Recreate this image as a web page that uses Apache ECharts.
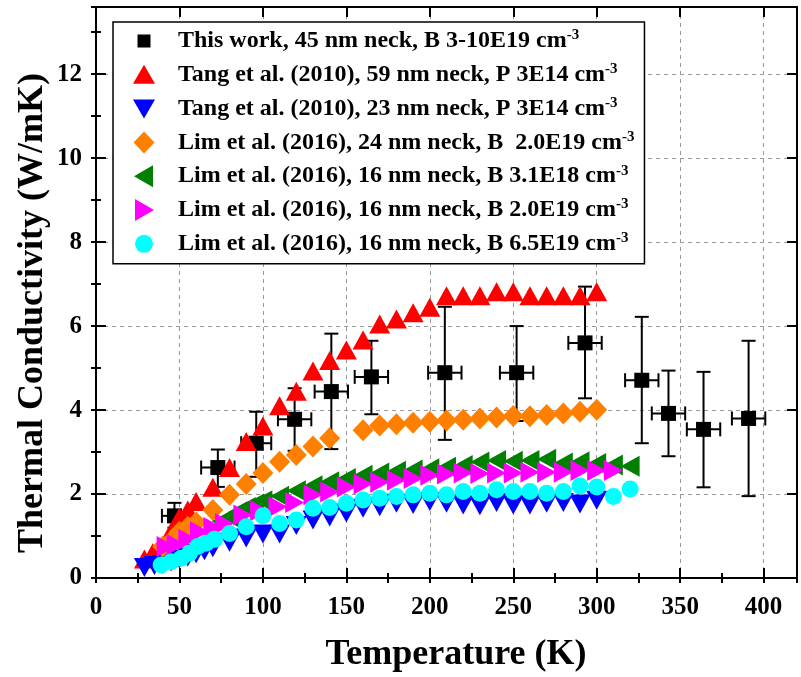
<!DOCTYPE html>
<html><head><meta charset="utf-8">
<script src="https://cdn.jsdelivr.net/npm/echarts@6/dist/echarts.min.js"></script>
<style>html,body{margin:0;padding:0;background:#fff}#c{width:801px;height:677px}</style>
</head><body><div id="c"></div>
<script>
// ---------- data ----------
const xTickLabels = ['0','50','100','150','200','250','300','350','400'];
const yTickLabels = ['0','2','4','6','8','10','12'];
const seriesNames = [
  'This work, 45 nm neck, B 3-10E19 cm',
  'Tang et al. (2010), 59 nm neck, P 3E14 cm',
  'Tang et al. (2010), 23 nm neck, P 3E14 cm',
  'Lim et al. (2016), 24 nm neck, B  2.0E19 cm',
  'Lim et al. (2016), 16 nm neck, B 3.1E18 cm',
  'Lim et al. (2016), 16 nm neck, B 2.0E19 cm',
  'Lim et al. (2016), 16 nm neck, B 6.5E19 cm'
];
const unitSup = '-3';

const thisT    = [47, 73, 96, 119, 141, 165, 209, 252, 293, 327, 343, 364, 391];
const thisK    = [1.48, 2.63, 3.21, 3.78, 4.44, 4.79, 4.89, 4.89, 5.60, 4.71, 3.92, 3.54, 3.80];
const thisKLo  = [1.20, 2.17, 2.41, 3.03, 3.07, 3.90, 3.29, 3.74, 4.28, 3.21, 2.90, 2.16, 1.95];
const thisKHi  = [1.79, 3.06, 3.96, 4.52, 5.82, 5.65, 6.46, 6.00, 6.94, 6.22, 4.94, 4.91, 5.65];
const thisTErr = [7.5, 10, 9, 10, 10, 10, 10, 10, 10, 10, 10, 10, 10];

const tang59T = [29, 34, 39, 45, 50, 55, 60, 70, 80, 90, 100, 110, 120, 130, 140, 150, 160, 170, 180, 190, 200, 210, 220, 230, 240, 250, 260, 270, 280, 290, 300];
const tang59K = [0.45, 0.60, 0.72, 1.10, 1.45, 1.62, 1.82, 2.16, 2.63, 3.25, 3.62, 4.10, 4.45, 4.93, 5.18, 5.43, 5.67, 6.05, 6.17, 6.32, 6.45, 6.72, 6.72, 6.72, 6.82, 6.82, 6.72, 6.72, 6.72, 6.72, 6.82];

const tang23T = [29, 35, 40, 45, 50, 55, 60, 65, 70, 80, 90, 100, 110, 120, 130, 140, 150, 160, 170, 180, 190, 200, 210, 220, 230, 240, 250, 260, 270, 280, 290, 300];
const tang23K = [0.25, 0.30, 0.32, 0.38, 0.45, 0.50, 0.58, 0.65, 0.72, 0.85, 0.95, 1.05, 1.05, 1.25, 1.38, 1.45, 1.55, 1.66, 1.70, 1.78, 1.75, 1.82, 1.78, 1.74, 1.72, 1.80, 1.74, 1.74, 1.78, 1.80, 1.76, 1.85];

const lim24T = [40, 45, 50, 55, 60, 70, 80, 90, 100, 110, 120, 130, 140, 160, 170, 180, 190, 200, 210, 220, 230, 240, 250, 260, 270, 280, 290, 300];
const lim24K = [0.75, 0.88, 1.10, 1.22, 1.32, 1.62, 1.98, 2.24, 2.50, 2.77, 2.93, 3.13, 3.33, 3.52, 3.63, 3.66, 3.70, 3.72, 3.75, 3.77, 3.80, 3.82, 3.86, 3.85, 3.88, 3.92, 3.96, 4.01];

const lim16aT = [75, 80, 85, 90, 95, 100, 110, 120, 130, 140, 150, 160, 170, 180, 190, 200, 210, 220, 230, 240, 250, 260, 270, 280, 290, 300, 310, 320];
const lim16aK = [1.35, 1.45, 1.58, 1.68, 1.76, 1.84, 1.95, 2.08, 2.20, 2.29, 2.37, 2.45, 2.50, 2.54, 2.57, 2.60, 2.64, 2.68, 2.76, 2.80, 2.78, 2.80, 2.83, 2.74, 2.77, 2.73, 2.69, 2.66];

const lim16bT = [42, 48, 55, 62, 70, 77, 88, 98, 109, 119, 130, 140, 150, 160, 170, 180, 190, 200, 210, 220, 230, 240, 250, 260, 270, 280, 290, 300, 310];
const lim16bK = [0.75, 0.80, 0.92, 1.10, 1.20, 1.30, 1.50, 1.60, 1.70, 1.80, 1.98, 2.05, 2.17, 2.24, 2.28, 2.33, 2.37, 2.45, 2.48, 2.50, 2.49, 2.50, 2.50, 2.52, 2.52, 2.52, 2.56, 2.56, 2.56];

const lim16cT = [39, 45, 51, 56, 61, 66, 71, 80, 90, 100, 110, 120, 130, 140, 150, 160, 170, 180, 190, 200, 210, 220, 230, 240, 250, 260, 270, 280, 290, 300, 310, 320];
const lim16cK = [0.31, 0.39, 0.47, 0.59, 0.75, 0.83, 0.92, 1.06, 1.22, 1.48, 1.30, 1.38, 1.66, 1.68, 1.78, 1.86, 1.90, 1.94, 1.98, 2.02, 1.98, 2.06, 2.02, 2.10, 2.06, 2.06, 2.02, 2.06, 2.19, 2.17, 1.94, 2.12];

// ---------- chart ----------
const FONT = "'Times New Roman', 'Liberation Serif', serif";
const chart = echarts.init(document.getElementById('c'), null, {renderer: 'canvas'});
const zip = (a, b) => a.map((v, i) => [v, b[i]]);
const X_MAX = 420, Y_MAX = 13.6;

const gridRect = {left: 96, right: 4, top: 7, bottom: 99};
const lblX = v => { const i = xTickLabels.indexOf(String(v)); return i >= 0 ? xTickLabels[i] : ''; };
const lblY = v => { const i = yTickLabels.indexOf(String(v)); return i >= 0 ? yTickLabels[i] : ''; };

function mainX(pos, showLabel) {
  return {
    type: 'value', gridIndex: 0, position: pos, min: 0, max: X_MAX, interval: 50,
    axisLine: {show: true, onZero: false, lineStyle: {color: '#000', width: 2}},
    axisTick: {show: true, inside: true, length: 10, lineStyle: {color: '#000', width: 2}},
    axisLabel: {show: showLabel, margin: 17, formatter: lblX, color: '#000',
      fontFamily: FONT, fontWeight: 'bold', fontSize: 25, showMaxLabel: false},
    splitLine: {show: showLabel, lineStyle: {color: '#9a9a9a', width: 1, type: [4, 4]}}
  };
}
function mainY(pos, showLabel) {
  return {
    type: 'value', gridIndex: 0, position: pos, min: 0, max: Y_MAX, interval: 2,
    axisLine: {show: true, onZero: false, lineStyle: {color: '#000', width: 2}},
    axisTick: {show: true, inside: true, length: 10, lineStyle: {color: '#000', width: 2}},
    axisLabel: {show: showLabel, margin: 14, formatter: lblY, color: '#000',
      fontFamily: FONT, fontWeight: 'bold', fontSize: 25, showMaxLabel: false},
    splitLine: {show: showLabel, lineStyle: {color: '#9a9a9a', width: 1, type: [4, 4]}}
  };
}
function minorX(pos) {
  return {type: 'value', gridIndex: 1, position: pos, min: 0, max: X_MAX, interval: 25,
    axisLine: {show: false}, axisLabel: {show: false}, splitLine: {show: false},
    axisTick: {show: true, inside: true, length: 5, lineStyle: {color: '#000', width: 2}}};
}
function minorY(pos) {
  return {type: 'value', gridIndex: 1, position: pos, min: 0, max: Y_MAX, interval: 1,
    axisLine: {show: false}, axisLabel: {show: false}, splitLine: {show: false},
    axisTick: {show: true, inside: true, length: 5, lineStyle: {color: '#000', width: 2}}};
}

const errData = thisT.map((t, i) => [t, thisK[i], thisKLo[i], thisKHi[i], thisTErr[i]]);

const markerDefs = [
  {color: '#000000', symbol: 'rect', size: 15, rot: 0, icon: 'path://M0,0 M22,22 M4.5,4.5h13v13h-13z'},
  {color: '#ff0000', symbol: 'triangle', size: [21, 19], rot: 0, icon: 'path://M0,1 M22,21 M11,1 L22,20 L0,20 Z'},
  {color: '#0000ff', symbol: 'triangle', size: [21, 19], rot: 180, icon: 'path://M0,1 M22,21 M0,2 L22,2 L11,21 Z'},
  {color: '#ff8000', symbol: 'diamond', size: [21, 22], rot: 0, icon: 'path://M11,0 L21.5,11 L11,22 L0.5,11 Z'},
  {color: '#008000', symbol: 'triangle', size: [21, 19], rot: 90, icon: 'path://M0,0 M22,22 M1,11 L20,0 L20,22 Z'},
  {color: '#ff00ff', symbol: 'triangle', size: [21, 19], rot: -90, icon: 'path://M0,0 M22,22 M2,0 L21,11 L2,22 Z'},
  {color: '#00ffff', symbol: 'circle', size: 17, rot: 0, icon: 'path://M0,0 M22,22 M20,11 A9,9 0 1 1 2,11 A9,9 0 1 1 20,11 Z'}
];
const dataSets = [
  zip(thisT, thisK), zip(tang59T, tang59K), zip(tang23T, tang23K), zip(lim24T, lim24K),
  zip(lim16aT, lim16aK), zip(lim16bT, lim16bK), zip(lim16cT, lim16cK)
];

const series = [{
  name: 'errorbars', type: 'custom', xAxisIndex: 0, yAxisIndex: 0, silent: true,
  encode: {x: 0, y: [1, 2, 3]},
  data: errData,
  renderItem: function (params, api) {
    const T = api.value(0), k = api.value(1), lo = api.value(2), hi = api.value(3), te = api.value(4);
    const c = api.coord([T, k]);
    const pLo = api.coord([T, lo]), pHi = api.coord([T, hi]);
    const pL = api.coord([T - te, k]), pR = api.coord([T + te, k]);
    const cw = 7, ch = 7;
    const st = {stroke: '#000', lineWidth: 2};
    return {type: 'group', children: [
      {type: 'line', shape: {x1: c[0], y1: pLo[1], x2: c[0], y2: pHi[1]}, style: st},
      {type: 'line', shape: {x1: c[0] - cw, y1: pLo[1], x2: c[0] + cw, y2: pLo[1]}, style: st},
      {type: 'line', shape: {x1: c[0] - cw, y1: pHi[1], x2: c[0] + cw, y2: pHi[1]}, style: st},
      {type: 'line', shape: {x1: pL[0], y1: c[1], x2: pR[0], y2: c[1]}, style: st},
      {type: 'line', shape: {x1: pL[0], y1: c[1] - ch, x2: pL[0], y2: c[1] + ch}, style: st},
      {type: 'line', shape: {x1: pR[0], y1: c[1] - ch, x2: pR[0], y2: c[1] + ch}, style: st}
    ]};
  }
}];
seriesNames.forEach((nm, i) => {
  const m = markerDefs[i];
  series.push({
    name: nm, type: 'scatter', xAxisIndex: 0, yAxisIndex: 0, silent: true,
    symbol: m.symbol, symbolSize: m.size, symbolRotate: m.rot,
    itemStyle: {color: m.color, opacity: 1},
    data: dataSets[i]
  });
});

const option = {
  animation: false,
  backgroundColor: '#fff',
  grid: [Object.assign({}, gridRect), Object.assign({}, gridRect)],
  xAxis: [mainX('bottom', true), mainX('top', false), minorX('bottom'), minorX('top')],
  yAxis: [mainY('left', true), mainY('right', false), minorY('left'), minorY('right')],
  legend: {
    orient: 'vertical', left: 113, top: 22,
    padding: [6, 10, 7, 20], itemGap: 7.8, itemWidth: 22, itemHeight: 22,
    backgroundColor: '#fff', borderColor: '#000', borderWidth: 1.5, borderRadius: 0,
    selectedMode: false, symbolRotate: 0,
    data: seriesNames.map((nm, i) => ({name: nm, icon: markerDefs[i].icon})),
    formatter: nm => '{sp|}{t|' + nm + '}{s|' + unitSup + '}',
    textStyle: {
      color: '#000', fontFamily: FONT, fontWeight: 'bold', fontSize: 24, lineHeight: 26,
      rich: {
        sp: {width: 18, lineHeight: 26},
        t: {color: '#000', fontFamily: FONT, fontWeight: 'bold', fontSize: 24, lineHeight: 26},
        s: {color: '#000', fontFamily: FONT, fontWeight: 'bold', fontSize: 15, lineHeight: 15, verticalAlign: 'top'}
      }
    }
  },
  graphic: [
    {type: 'text', x: 33, y: 313, rotation: Math.PI / 2, silent: true,
      style: {text: 'Thermal Conductivity (W/mK)', fill: '#000', fontFamily: FONT, fontWeight: 'bold',
        fontSize: 36, align: 'center', verticalAlign: 'middle', textAlign: 'center', textVerticalAlign: 'middle'}},
    {type: 'text', x: 456, y: 655, silent: true,
      style: {text: 'Temperature (K)', fill: '#000', fontFamily: FONT, fontWeight: 'bold',
        fontSize: 36, align: 'center', verticalAlign: 'middle', textAlign: 'center', textVerticalAlign: 'middle'}}
  ],
  series: series
};
chart.setOption(option);
</script>
</body></html>
